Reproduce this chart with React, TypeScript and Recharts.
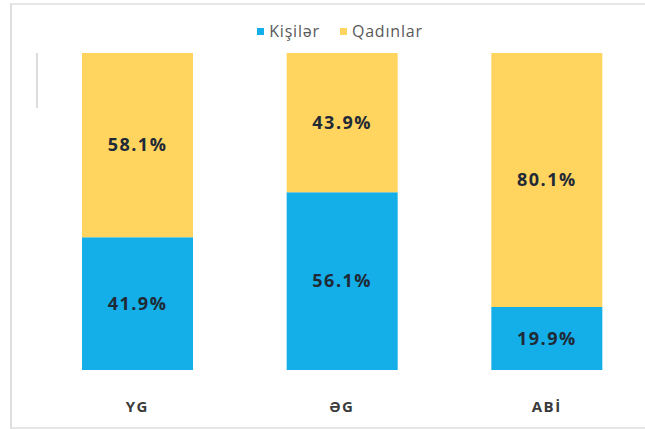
import React from "react";
import { BarChart, Bar, XAxis, YAxis, LabelList } from "recharts";

const categories = ["YG", "ƏG", "ABİ"];
const kisiler = [41.9, 56.1, 19.9];
const qadinlar = [58.1, 43.9, 80.1];
const seriesNames = ["Kişilər", "Qadınlar"];
const colors = ["#14aee8", "#ffd55f"];

const data = categories.map((c, i) => ({ name: c, k: kisiler[i], q: qadinlar[i] }));

const fmt = (v: any) => `${Number(v).toFixed(1)}%`;

const CatTick = (props: any) => {
  const { x, y, payload } = props;
  return (
    <text
      x={x}
      y={y + 34}
      textAnchor="middle"
      fontFamily="'Open Sans', sans-serif"
      fontWeight={700}
      fontSize={15}
      letterSpacing={1.5}
      fill="#3a3a3a"
    >
      {payload.value}
    </text>
  );
};

const labelStyle = {
  fontFamily: "'Open Sans', sans-serif",
  fontWeight: 700,
  fontSize: 18,
  letterSpacing: 1.5,
  fill: "#1f2a36",
};

export default function App() {
  return (
    <div style={{ position: "absolute", left: 0, top: 0, width: 645, height: 429, overflow: "hidden", background: "#fff" }}>
      <div
        style={{
          position: "absolute",
          left: 10,
          top: 3,
          width: 660,
          height: 422,
          borderLeft: "2px solid #dedede",
          borderTop: "2px solid #e6e6e6",
          borderBottom: "2px solid #e6e6e6",
        }}
      />
      <div style={{ position: "absolute", left: 36, top: 53, width: 2, height: 55, background: "#dcdcdc" }} />
      <div
        style={{
          position: "absolute",
          left: 30,
          top: 20,
          width: 620,
          display: "flex",
          justifyContent: "center",
          alignItems: "center",
          gap: 20,
          fontFamily: "'Open Sans', sans-serif",
          fontSize: 16,
          letterSpacing: 0.8,
          color: "#595959",
        }}
      >
        {seriesNames.map((n, i) => (
          <span key={n} style={{ display: "flex", alignItems: "center" }}>
            <span
              style={{
                width: 7,
                height: 7,
                background: colors[i],
                display: "inline-block",
                marginRight: 5,
              }}
            />
            {n}
          </span>
        ))}
      </div>
      <div style={{ position: "absolute", left: 0, top: 0 }}>
        <BarChart
          width={662}
          height={429}
          data={data}
          margin={{ top: 53, right: 13, left: 35, bottom: 0 }}
          barCategoryGap="0%"
        >
          <XAxis
            dataKey="name"
            axisLine={false}
            tickLine={false}
            tick={<CatTick />}
            height={59}
            interval={0}
          />
          <YAxis hide domain={[0, 100]} />
          <Bar dataKey="k" stackId="a" fill={colors[0]} barSize={111} isAnimationActive={false}>
            <LabelList dataKey="k" position="center" formatter={fmt} style={labelStyle} />
          </Bar>
          <Bar dataKey="q" stackId="a" fill={colors[1]} barSize={111} isAnimationActive={false}>
            <LabelList dataKey="q" position="center" formatter={fmt} style={labelStyle} />
          </Bar>
        </BarChart>
      </div>
    </div>
  );
}
